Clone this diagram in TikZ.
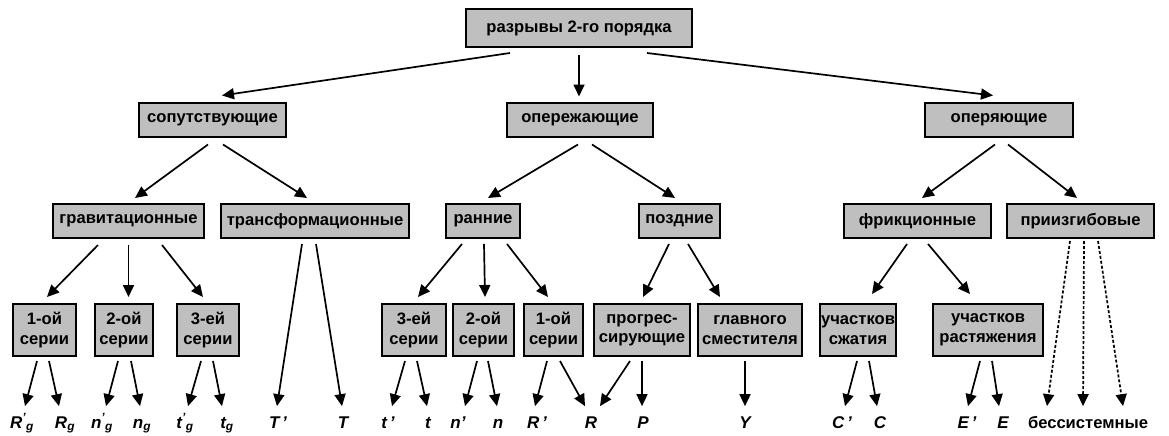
\documentclass[tikz,border=0pt]{standalone}
\usepackage{fontspec}
\setmainfont{Liberation Sans}
\usetikzlibrary{arrows.meta}

% prime, then the subscript g
\newcommand\pg[1]{#1\textsuperscript{’}\textsubscript{g}}

\begin{document}
\begin{tikzpicture}[x=1pt,y=-1pt,>={Triangle[length=12pt,width=11pt]},line width=1.7pt,
    box/.style={draw,fill=gray!50,line width=2pt,inner sep=0.5pt,minimum height=34pt,
                font=\fontsize{16.6}{19.5}\selectfont\bfseries,align=center},
    tall/.style={minimum height=52pt},
    leaf/.style={inner sep=0pt,text height=12pt,text depth=4pt,
                 font=\fontsize{17}{19}\selectfont\bfseries\itshape},
    dotarr/.style={->,dash pattern=on 3pt off 2pt}]

  \useasboundingbox (0,0) rectangle (1169,436);

  \node[box,minimum width=226pt,minimum height=38pt] (root) at (579,28) {разрывы 2-го порядка};

  \node[box,minimum width=147pt] (sop)    at (212.5,119.5) {сопутствующие};
  \node[box,minimum width=146pt] (oper)   at (580,119.5)   {опережающие};
  \node[box,minimum width=148pt] (operya) at (999,119.5)   {оперяющие};

  \node[box,minimum width=151pt] (grav)  at (128.5,221)  {гравитационные};
  \node[box,minimum width=188pt] (trans) at (315,221)    {трансформационные};
  \node[box,minimum width=74pt]  (rann)  at (483,221)    {ранние};
  \node[box,minimum width=81pt]  (pozd)  at (679.5,221)  {поздние};
  \node[box,minimum width=147pt] (frik)  at (917.5,221)  {фрикционные};
  \node[box,minimum width=147pt] (priz)  at (1080.5,221) {приизгибовые};

  \node[box,tall,minimum width=63pt]  (gA)   at (44.5,330)  {1-ой\\серии};
  \node[box,tall,minimum width=58pt]  (gB)   at (124,330)   {2-ой\\серии};
  \node[box,tall,minimum width=62pt]  (gC)   at (208,330)   {3-ей\\серии};
  \node[box,tall,minimum width=64pt]  (rC)   at (414,330)   {3-ей\\серии};
  \node[box,tall,minimum width=61pt]  (rB)   at (483.5,330) {2-ой\\серии};
  \node[box,tall,minimum width=59pt]  (rA)   at (553.5,330) {1-ой\\серии};
  \node[box,tall,minimum width=96pt]  (prog) at (642,330)   {прогрес-\\сирующие};
  \node[box,tall,minimum width=104pt] (glav) at (750,330)   {главного\\сместителя};
  \node[box,tall,minimum width=76pt]  (szh)  at (858,330)   {участков\\сжатия};
  \node[box,tall,minimum width=110pt] (rast) at (988,330)   {участков\\растяжения};

  \node[leaf] (Rgp) at (22,424)   {\pg{R}};
  \node[leaf] (Rg)  at (65,424)   {R\textsubscript{g}};
  \node[leaf] (ngp) at (102,424)  {\pg{n}};
  \node[leaf] (ng)  at (142,424)  {n\textsubscript{g}};
  \node[leaf] (tgp) at (185,424)  {\pg{t}};
  \node[leaf] (tg)  at (227,424)  {t\textsubscript{g}};
  \node[leaf] (TTp) at (278,424)  {T\,’};
  \node[leaf] (TT)  at (343,424)  {T};
  \node[leaf] (ttp) at (388,424)  {t\,’};
  \node[leaf] (tt)  at (428,424)  {t};
  \node[leaf] (nnp) at (458,424)  {n’};
  \node[leaf] (nn)  at (498,424)  {n};
  \node[leaf] (RRp) at (537,424)  {R\,’};
  \node[leaf] (RR)  at (591,424)  {R};
  \node[leaf] (PP)  at (643,424)  {P};
  \node[leaf] (YY)  at (745,424)  {Y};
  \node[leaf] (CCp) at (842,424)  {C\,’};
  \node[leaf] (CC)  at (880,424)  {C};
  \node[leaf] (EEp) at (967,424)  {E\,’};
  \node[leaf] (EE)  at (1003,424) {E};
  \node[leaf,font=\fontsize{16.6}{19}\selectfont\bfseries] (bess) at (1088,424) {бессистемные};

  % first level
  \draw[->] ([xshift=-69pt,yshift=-5pt]root.south) -- ([xshift=9.5pt,yshift=6pt]sop.north);
  \draw[->] ([yshift=-7pt]root.south) -- ([yshift=5pt]root.south |- oper.north);
  \draw[->] ([xshift=68pt,yshift=-5pt]root.south) -- ([xshift=-6pt,yshift=6pt]operya.north);

  % second level
  \draw[->] ([xshift=-4.5pt,yshift=-7pt]sop.south) -- ([xshift=6.5pt,yshift=5pt]grav.north);
  \draw[->] ([xshift=10.5pt,yshift=-7pt]sop.south) -- ([xshift=-8pt,yshift=5pt]trans.north);
  \draw[->] ([xshift=-2pt,yshift=-7pt]oper.south) -- ([xshift=5pt,yshift=5pt]rann.north);
  \draw[->] ([xshift=12pt,yshift=-7pt]oper.south) -- ([xshift=-4.5pt,yshift=5pt]pozd.north);
  \draw[->] ([xshift=-4pt,yshift=-7pt]operya.south) -- ([xshift=4.5pt,yshift=5pt]frik.north);
  \draw[->] ([xshift=9pt,yshift=-7pt]operya.south) -- ([xshift=-3.5pt,yshift=5pt]priz.north);

  % third level
  \draw[->] ([xshift=-30.5pt,yshift=-6pt]grav.south) -- ([xshift=2.5pt,yshift=6pt]gA.north);
  \draw[->] ([yshift=-6pt]grav.south) -- ([xshift=4.5pt,yshift=6pt]gB.north);
  \draw[->] ([xshift=33.5pt,yshift=-6pt]grav.south) -- ([xshift=-5pt,yshift=6pt]gC.north);
  \draw[->] ([xshift=-13pt,yshift=-5pt]trans.south) -- ([xshift=-1pt,yshift=9pt]TTp.north);
  \draw[->] ([xshift=1pt,yshift=-5pt]trans.south) -- ([xshift=-1pt,yshift=9pt]TT.north);
  \draw[->] ([xshift=-21pt,yshift=-5pt]rann.south) -- ([xshift=4pt,yshift=6pt]rC.north);
  \draw[->] ([xshift=1pt,yshift=-5pt]rann.south) -- ([xshift=1.5pt,yshift=6pt]rB.north);
  \draw[->] ([xshift=24pt,yshift=-5pt]rann.south) -- ([xshift=-5.5pt,yshift=6pt]rA.north);
  \draw[->] ([xshift=-10.5pt,yshift=-5pt]pozd.south) -- ([xshift=1pt,yshift=6pt]prog.north);
  \draw[->] ([xshift=8.5pt,yshift=-5pt]pozd.south) -- ([xshift=-30pt,yshift=6pt]glav.north);
  \draw[->] ([xshift=-10.5pt,yshift=-5pt]frik.south) -- ([xshift=14pt,yshift=9pt]szh.north);
  \draw[->] ([xshift=10.5pt,yshift=-5pt]frik.south) -- ([xshift=-18pt,yshift=9pt]rast.north);
  \draw[dotarr] ([xshift=-10.5pt,yshift=-2pt]priz.south) -- ([xshift=-41pt,yshift=9pt]bess.north);
  \draw[dotarr] ([xshift=3.5pt,yshift=-2pt]priz.south) -- ([xshift=-5pt,yshift=9pt]bess.north);
  \draw[dotarr] ([xshift=17.5pt,yshift=-2pt]priz.south) -- ([xshift=35pt,yshift=9pt]bess.north);

  % to the letters
  \draw[->] ([xshift=-7.5pt,yshift=-4pt]gA.south) -- ([xshift=3pt,yshift=9pt]Rgp.north);
  \draw[->] ([xshift=4.5pt,yshift=-4pt]gA.south) -- ([xshift=-6pt,yshift=9pt]Rg.north);
  \draw[->] ([xshift=-6pt,yshift=-4pt]gB.south) -- ([xshift=4pt,yshift=9pt]ngp.north);
  \draw[->] ([xshift=7pt,yshift=-4pt]gB.south) -- ([xshift=-2pt,yshift=9pt]ng.north);
  \draw[->] ([xshift=-7pt,yshift=-4pt]gC.south) -- ([xshift=3pt,yshift=9pt]tgp.north);
  \draw[->] ([xshift=5pt,yshift=-4pt]gC.south) -- ([xshift=-5pt,yshift=9pt]tg.north);
  \draw[->] ([xshift=-9pt,yshift=-4pt]rC.south) -- ([xshift=4pt,yshift=9pt]ttp.north);
  \draw[->] ([xshift=3pt,yshift=-4pt]rC.south) -- ([xshift=-1pt,yshift=9pt]tt.north);
  \draw[->] ([xshift=-6.5pt,yshift=-4pt]rB.south) -- ([xshift=7pt,yshift=9pt]nnp.north);
  \draw[->] ([xshift=4.5pt,yshift=-4pt]rB.south) -- ([xshift=-1pt,yshift=9pt]nn.north);
  \draw[->] ([xshift=-6.5pt,yshift=-4pt]rA.south) -- ([xshift=-2pt,yshift=9pt]RRp.north);
  \draw[->] ([xshift=6.5pt,yshift=-4pt]rA.south) -- ([xshift=-6pt,yshift=9pt]RR.north);
  \draw[->] ([xshift=-12pt,yshift=-4pt]prog.south) -- ([xshift=9pt,yshift=9pt]RR.north);
  \draw[->] ([yshift=-4pt]prog.south) -- ([xshift=-1pt,yshift=9pt]PP.north);
  \draw[->] ([xshift=-5pt,yshift=-4pt]glav.south) -- ([yshift=9pt]YY.north);
  \draw[->] ([xshift=-1pt,yshift=-4pt]szh.south) -- ([xshift=3pt,yshift=9pt]CCp.north);
  \draw[->] ([xshift=11pt,yshift=-4pt]szh.south) -- ([xshift=-3pt,yshift=9pt]CC.north);
  \draw[->] ([xshift=-8pt,yshift=-4pt]rast.south) -- ([xshift=1pt,yshift=9pt]EEp.north);
  \draw[->] ([xshift=4pt,yshift=-4pt]rast.south) -- ([xshift=-4pt,yshift=9pt]EE.north);
\end{tikzpicture}
\end{document}
